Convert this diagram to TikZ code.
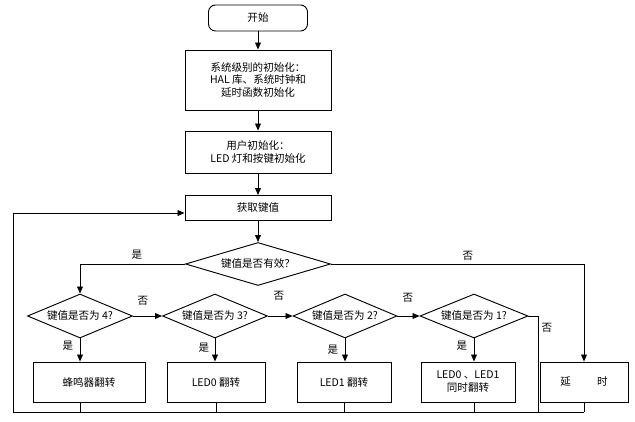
\documentclass[tikz,border=0pt]{standalone}
\usepackage{fontspec}
\setmainfont{Liberation Serif}
\newfontfamily\cjk{Noto Sans CJK SC}
\usetikzlibrary{shapes.geometric,arrows.meta}

\tikzset{
  box/.style={draw, thick, minimum height=#1, align=center, font=\cjk\small, inner sep=1pt},
  dec/.style={draw, thick, diamond, aspect=2.4, inner sep=0pt, font=\cjk\small},
  lbl/.style={font=\cjk\small},
  flow/.style={thick, -{Triangle[length=6pt,width=5pt]}}
}

\begin{document}
\begin{tikzpicture}[x=0.03cm, y=-0.03cm]
\useasboundingbox (0,0) rectangle (635,422);

% top column
\node [box=26*0.03cm, minimum width=99*0.03cm, rounded corners=6pt] (start) at (258,18) {开始};
\node [box=60*0.03cm, minimum width=146*0.03cm] (sysinit) at (258,80) {系统级别的初始化：\\HAL 库、系统时钟和\\延时函数初始化};
\node [box=42*0.03cm, minimum width=146*0.03cm] (usrinit) at (258,152) {用户初始化：\\LED 灯和按键初始化};
\node [box=25*0.03cm, minimum width=146*0.03cm] (getkey) at (258,208) {获取键值};
\node [dec, minimum width=145*0.03cm, minimum height=43*0.03cm] (valid) at (258,264) {键值是否有效？};

% key tests
\node [dec, minimum width=105*0.03cm, minimum height=44*0.03cm] (key4) at (80,316) {键值是否为 4?};
\node [dec, minimum width=105*0.03cm, minimum height=44*0.03cm] (key3) at (215,316) {键值是否为 3?};
\node [dec, minimum width=104*0.03cm, minimum height=44*0.03cm] (key2) at (345,316) {键值是否为 2?};
\node [dec, minimum width=108*0.03cm, minimum height=44*0.03cm] (key1) at (474,316) {键值是否为 1?};

% actions
\node [box=40*0.03cm, minimum width=112*0.03cm] (beep) at (89,382) {蜂鸣器翻转};
\node [box=40*0.03cm, minimum width=98*0.03cm] (led0) at (216,382) {LED0 翻转};
\node [box=40*0.03cm, minimum width=94*0.03cm] (led1) at (344,382) {LED1 翻转};
\node [box=40*0.03cm, minimum width=94*0.03cm] (both) at (468,382) {LED0 、LED1\\同时翻转};
\node [box=40*0.03cm, minimum width=88*0.03cm] (delay) at (584,382) {延\hspace{2.5em}时};

\coordinate (bl) at (13,412);
\coordinate (br) at (584,412);
\coordinate (k1r) at (538,316);

\draw [flow] (start) -- (sysinit);
\draw [flow] (sysinit) -- (usrinit);
\draw [flow] (usrinit) -- (getkey);
\draw [flow] (getkey) -- (valid);
\draw [flow] (valid.west) -| (key4.north);
\draw [flow] (valid.east) -| (delay.north);
\draw [flow] (key4) -- (key3);
\draw [flow] (key3) -- (key2);
\draw [flow] (key2) -- (key1);
\draw [flow] (key4.south) -- (key4.south |- beep.north);
\draw [flow] (key3) -- (key3 |- led0.north);
\draw [flow] (key2) -- (key2 |- led1.north);
\draw [flow] (key1) -- (key1 |- both.north);

% return path
\draw [thick] (key1.east) -- (k1r) -- (k1r |- bl);
\draw [thick] (key4.south |- beep.south) -- (key4.south |- bl);
\draw [thick] (led0) -- (led0 |- bl);
\draw [thick] (led1) -- (led1 |- bl);
\draw [thick] (key1 |- both.south) -- (key1 |- bl);
\draw [thick] (delay) -- (br);
\draw [flow] (br) -- (bl) -- (13,213) -- (getkey.west |- 0,213);

% labels
\node [lbl] (y0) at (137,255) {是};
\node [lbl] (n0) at (468,256) {否};
\node [lbl] (n4) at (143,301) {否};
\node [lbl] (n3) at (279,296) {否};
\node [lbl] (n2) at (408,298) {否};
\node [lbl] (n1) at (547,328) {否};
\node [lbl] (y4) at (68,346) {是};
\node [lbl] (y3) at (204,348) {是};
\node [lbl] (y2) at (333,350) {是};
\node [lbl] (y1) at (462,346) {是};
\end{tikzpicture}
\end{document}
